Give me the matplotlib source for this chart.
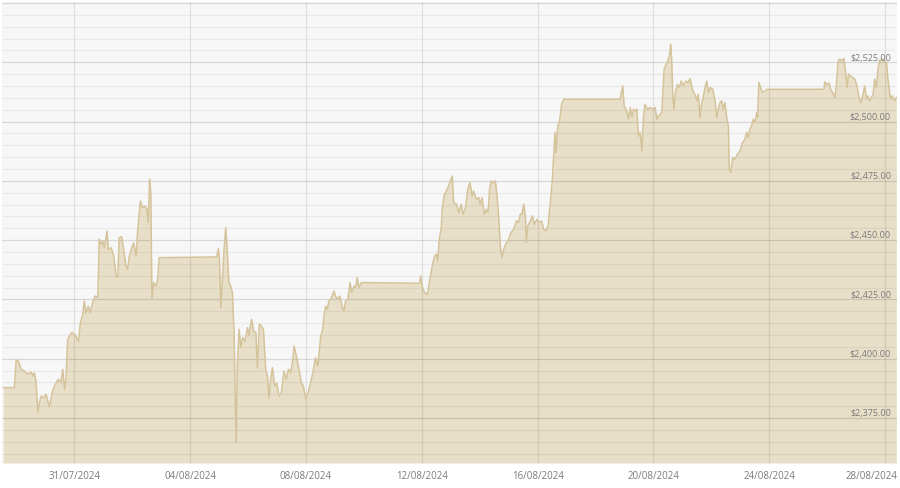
import matplotlib
matplotlib.use("Agg")
import matplotlib.pyplot as plt
import matplotlib.transforms as mtransforms
import matplotlib.dates as mdates
import numpy as np
import pandas as pd

# gold price, USD/oz. time is days since 28/07/2024 00:00
start_date = "2024-07-28"
day_offsets = [
    0.54, 0.93, 0.99, 1.07, 1.16, 1.28, 1.39, 1.51, 1.57, 1.62, 1.68, 1.74, 1.79, 1.85, 1.94,
    2.02, 2.14, 2.26, 2.37, 2.45, 2.54, 2.60, 2.66, 2.71, 2.77, 2.83, 2.91, 3.02, 3.14, 3.21,
    3.29, 3.34, 3.40, 3.48, 3.55, 3.63, 3.71, 3.81, 3.86, 3.92, 3.98, 4.03, 4.13, 4.17, 4.27,
    4.36, 4.44, 4.50, 4.55, 4.63, 4.70, 4.78, 4.84, 4.90, 4.98, 5.05, 5.13, 5.19, 5.28, 5.36,
    5.44, 5.51, 5.55, 5.60, 5.64, 5.68, 5.74, 5.82, 5.88, 5.93, 7.92, 7.97, 8.01, 8.06, 8.12,
    8.17, 8.23, 8.29, 8.34, 8.40, 8.46, 8.52, 8.55, 8.59, 8.63, 8.69, 8.75, 8.81, 8.89, 8.98,
    9.03, 9.12, 9.19, 9.27, 9.32, 9.39, 9.46, 9.53, 9.61, 9.67, 9.72, 9.78, 9.84, 9.92, 9.99,
    10.07, 10.15, 10.24, 10.32, 10.39, 10.47, 10.53, 10.59, 10.68, 10.76, 10.84, 10.91, 10.99,
    11.07, 11.16, 11.25, 11.33, 11.41, 11.51, 11.57, 11.62, 11.68, 11.74, 11.79, 11.88, 11.97,
    12.02, 12.10, 12.17, 12.26, 12.31, 12.37, 12.45, 12.52, 12.58, 12.66, 12.71, 12.77, 12.83,
    12.91, 14.93, 14.96, 15.01, 15.09, 15.19, 15.28, 15.36, 15.44, 15.51, 15.55, 15.61, 15.67,
    15.71, 15.78, 15.88, 15.97, 16.05, 16.10, 16.20, 16.28, 16.36, 16.43, 16.51, 16.59, 16.66,
    16.74, 16.79, 16.89, 16.97, 17.02, 17.08, 17.16, 17.23, 17.29, 17.34, 17.40, 17.48, 17.54,
    17.60, 17.66, 17.71, 17.77, 17.83, 17.92, 18.00, 18.08, 18.17, 18.27, 18.34, 18.40, 18.46,
    18.52, 18.58, 18.61, 18.66, 18.75, 18.82, 18.89, 18.98, 19.06, 19.14, 19.21, 19.29, 19.36,
    19.44, 19.51, 19.55, 19.60, 19.64, 19.69, 19.76, 19.83, 19.90, 21.85, 21.94, 21.99, 22.08,
    22.14, 22.20, 22.26, 22.31, 22.37, 22.43, 22.48, 22.54, 22.60, 22.66, 22.71, 22.79, 22.89,
    22.98, 23.06, 23.12, 23.17, 23.23, 23.29, 23.32, 23.37, 23.44, 23.50, 23.55, 23.60, 23.63,
    23.67, 23.71, 23.76, 23.83, 23.90, 23.96, 24.03, 24.12, 24.20, 24.27, 24.32, 24.38, 24.44,
    24.50, 24.55, 24.61, 24.67, 24.72, 24.78, 24.84, 24.90, 24.96, 25.05, 25.13, 25.19, 25.24,
    25.30, 25.36, 25.41, 25.47, 25.53, 25.59, 25.62, 25.67, 25.74, 25.82, 25.90, 25.99, 26.08,
    26.16, 26.22, 26.28, 26.33, 26.39, 26.45, 26.51, 26.57, 26.60, 26.64, 26.70, 26.77, 26.85,
    26.93, 28.89, 28.92, 29.00, 29.07, 29.12, 29.19, 29.27, 29.32, 29.38, 29.44, 29.50, 29.58,
    29.64, 29.69, 29.74, 29.81, 29.88, 29.96, 30.03, 30.10, 30.17, 30.24, 30.30, 30.36, 30.41,
    30.47, 30.53, 30.59, 30.64, 30.70, 30.76, 30.82, 30.91, 30.99, 31.05, 31.10, 31.19, 31.25,
    31.33, 31.39,
]
prices = [
    2387.8, 2387.8, 2399.4, 2399.0, 2395.5, 2394.8, 2393.4, 2394.4, 2392.7, 2394.0, 2390.0, 2377.2, 2381.4, 2384.2, 2383.5,
    2385.0, 2379.7, 2387.0, 2389.9, 2391.3, 2390.0, 2395.5, 2387.0, 2391.3, 2408.1, 2409.6, 2411.0, 2410.2, 2407.4, 2415.2,
    2418.7, 2424.3, 2419.4, 2422.1, 2419.4, 2423.6, 2426.4, 2425.8, 2450.4, 2448.3, 2449.7, 2446.8, 2453.8, 2446.0, 2446.8,
    2443.3, 2434.9, 2434.2, 2451.0, 2451.5, 2446.1, 2439.1, 2437.7, 2443.3, 2446.8, 2448.9, 2443.3, 2454.6, 2466.5, 2463.7,
    2464.4, 2463.0, 2457.4, 2475.7, 2470.0, 2425.0, 2432.1, 2430.6, 2433.5, 2442.6, 2442.9, 2446.4, 2442.6, 2421.5, 2434.9,
    2446.1, 2455.3, 2443.3, 2432.1, 2430.6, 2427.8, 2409.6, 2387.0, 2364.6, 2396.9, 2412.4, 2404.6, 2408.9, 2407.4, 2413.1,
    2409.6, 2416.6, 2411.7, 2411.0, 2396.2, 2414.5, 2413.8, 2412.4, 2395.5, 2392.7, 2383.5, 2391.3, 2396.2, 2388.4, 2389.8,
    2384.2, 2385.6, 2394.8, 2391.3, 2395.5, 2394.1, 2398.3, 2405.3, 2400.4, 2395.5, 2389.9, 2388.4, 2383.1,
    2385.6, 2389.9, 2394.8, 2400.4, 2396.9, 2409.6, 2411.7, 2418.0, 2422.1, 2420.8, 2424.3, 2425.7, 2428.5,
    2426.4, 2425.0, 2426.4, 2421.5, 2420.1, 2424.3, 2425.0, 2432.1, 2427.9, 2430.6, 2430.0, 2434.2, 2430.0,
    2432.1, 2431.8, 2434.9, 2430.6, 2427.9, 2427.1, 2433.5, 2439.1, 2443.3, 2444.0, 2441.2, 2451.0, 2454.6,
    2463.7, 2469.3, 2471.4, 2474.3, 2477.0, 2465.8, 2465.1, 2461.6, 2465.1, 2460.9, 2463.7, 2471.4, 2474.3,
    2468.6, 2470.7, 2467.2, 2467.9, 2465.1, 2467.9, 2460.9, 2463.0, 2461.6, 2471.4, 2474.9, 2474.3, 2474.9,
    2468.6, 2458.8, 2447.5, 2442.6, 2446.1, 2448.9, 2450.3, 2453.2, 2454.6, 2458.1, 2457.4, 2460.9, 2460.9,
    2465.1, 2459.5, 2448.9, 2456.0, 2458.1, 2460.2, 2456.7, 2458.8, 2457.4, 2458.1, 2454.6, 2453.9, 2456.0,
    2465.8, 2475.7, 2484.1, 2495.4, 2486.9, 2497.5, 2500.3, 2507.3, 2509.4, 2509.4, 2515.0, 2506.6, 2504.5,
    2501.0, 2505.9, 2501.7, 2505.2, 2504.5, 2505.2, 2493.9, 2495.4, 2487.6, 2502.4, 2507.3, 2505.2, 2505.9,
    2505.2, 2505.9, 2501.0, 2502.4, 2503.1, 2503.8, 2510.8, 2522.1, 2524.2, 2525.6, 2527.7, 2532.6, 2526.3,
    2510.8, 2505.2, 2512.2, 2515.7, 2514.3, 2517.1, 2515.0, 2517.1, 2516.5, 2518.1, 2515.0, 2512.2, 2511.5,
    2508.7, 2511.5, 2501.7, 2508.0, 2510.1, 2514.3, 2517.1, 2512.2, 2514.3, 2513.6, 2508.7, 2501.7, 2505.2,
    2508.0, 2508.7, 2505.2, 2508.0, 2501.7, 2498.1, 2479.9, 2478.5, 2484.8, 2484.1, 2486.2, 2487.6, 2491.1,
    2492.5, 2495.4, 2493.2, 2496.8, 2498.1, 2501.0, 2499.6, 2503.8, 2501.7, 2516.5, 2514.3, 2512.2, 2512.9,
    2513.6, 2513.6, 2516.7, 2515.7, 2516.2, 2513.6, 2512.2, 2510.1, 2515.7, 2525.6, 2526.3, 2525.6, 2526.6,
    2520.7, 2514.3, 2520.0, 2519.2, 2518.6, 2517.8, 2515.0, 2510.1, 2508.0, 2511.5, 2515.0, 2509.4, 2510.8,
    2508.7, 2510.1, 2511.5, 2517.8, 2514.3, 2522.8, 2525.6, 2526.3, 2525.6, 2524.9, 2517.8, 2509.4, 2510.8,
    2508.7, 2510.1,
]
tick_dates = ["2024-07-31", "2024-08-04", "2024-08-08", "2024-08-12",
              "2024-08-16", "2024-08-20", "2024-08-24", "2024-08-28"]
tick_labels = ["31/07/2024", "04/08/2024", "08/08/2024", "12/08/2024",
               "16/08/2024", "20/08/2024", "24/08/2024", "28/08/2024"]
price_levels = [2375, 2400, 2425, 2450, 2475, 2500, 2525]

base = mdates.date2num(pd.Timestamp(start_date))
t = base + np.array(day_offsets)
p = np.array(prices)
ymin, ymax = 2356.0, 2550.4

fig = plt.figure(figsize=(9, 4.88), dpi=100)
fig.patch.set_facecolor("white")
ax = fig.add_axes([0.0022, 0.0512, 0.995, 0.9447])
ax.set_facecolor("#f7f7f8")

ax.fill_between(t, p, ymin, color="#e8dfc9", lw=0, zorder=1)
ax.plot(t, p, color="#d5c49b", lw=1.1, zorder=3)

# horizontal grid: fine every $5, stronger every $25
for v in np.arange(2360, 2551, 5):
    strong = (v % 25 == 0)
    ax.axhline(v, color="black", alpha=0.13 if strong else 0.05, lw=0.9, zorder=2)

xt = mdates.date2num(pd.to_datetime(tick_dates))
for x in xt:
    ax.axvline(x, color="black", alpha=0.09, lw=0.9, zorder=2)

trans = mtransforms.blended_transform_factory(ax.transAxes, ax.transData)
for v in price_levels:
    ax.text(0.9927, v + 0.7, f"${v:,.2f}", transform=trans, ha="right", va="baseline",
            fontsize=6.5, family="Open Sans", color="#7a7a7a", zorder=4)

ax.set_xlim(base + 0.5, base + 31.43)
ax.set_ylim(ymin, ymax)
ax.set_xticks(xt)
ax.set_xticklabels(tick_labels, family="Open Sans", fontsize=7, color="#7a7a7a")
ax.get_xticklabels()[-1].set_horizontalalignment("right")
ax.tick_params(axis="x", length=0, pad=6)
ax.set_yticks([])
for s in ax.spines.values():
    s.set_visible(False)

# the last date label sits flush with the right edge, like the original
last = ax.get_xticklabels()[-1]
last.set_transform(last.get_transform() + mtransforms.ScaledTranslation(12 / 100, 0, fig.dpi_scale_trans))

fig.savefig("out.png", dpi=100, facecolor="white")
